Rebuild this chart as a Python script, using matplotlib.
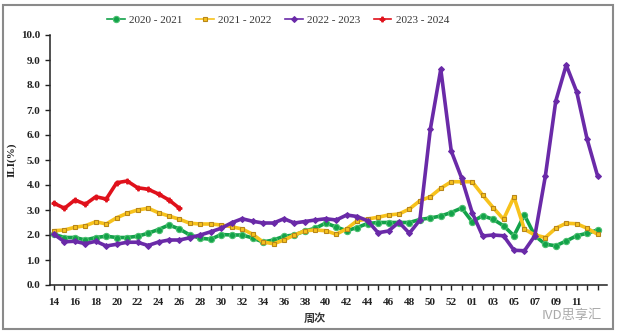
import matplotlib
matplotlib.use("Agg")
import matplotlib.pyplot as plt
from matplotlib.patches import Rectangle

weeks = list(range(14, 54)) + list(range(1, 14))
tick_labels = [f"{w:02d}" if w < 10 else str(w) for w in weeks]

s2020 = [2.03, 1.9, 1.9, 1.8, 1.9, 1.95, 1.9, 1.9, 1.95, 2.07, 2.22, 2.4, 2.24, 2.0,
         1.87, 1.83, 2.02, 2.0, 2.0, 1.88, 1.72, 1.8, 1.95, 2.0, 2.16, 2.27, 2.48, 2.32,
         2.17, 2.3, 2.46, 2.5, 2.5, 2.5, 2.5, 2.62, 2.68, 2.76, 2.9, 3.08,
         2.53, 2.77, 2.63, 2.37, 1.97, 2.8, 1.97, 1.63, 1.57, 1.76, 1.97, 2.07, 2.2]
s2021 = [2.17, 2.2, 2.31, 2.37, 2.53, 2.44, 2.69, 2.87, 3.0, 3.07, 2.89, 2.76, 2.63, 2.47,
         2.44, 2.44, 2.4, 2.33, 2.24, 2.03, 1.72, 1.65, 1.8, 2.0, 2.17, 2.2, 2.17, 2.03,
         2.25, 2.57, 2.64, 2.71, 2.8, 2.84, 3.04, 3.37, 3.53, 3.87, 4.13, 4.13,
         4.13, 3.6, 3.1, 2.63, 3.52, 2.23, 2.0, 1.9, 2.27, 2.47, 2.45, 2.27, 2.03]
s2022 = [2.03, 1.73, 1.75, 1.65, 1.75, 1.56, 1.63, 1.71, 1.71, 1.58, 1.72, 1.8, 1.8, 1.89,
         2.0, 2.13, 2.27, 2.49, 2.65, 2.55, 2.48, 2.48, 2.65, 2.48, 2.54, 2.6, 2.65, 2.6,
         2.8, 2.74, 2.57, 2.09, 2.16, 2.51, 2.07, 2.6, 6.23, 8.63, 5.36, 4.27,
         2.9, 1.96, 2.0, 1.97, 1.39, 1.37, 1.97, 4.35, 7.36, 8.8, 7.73, 5.83, 4.36]
s2023 = [3.27, 3.07, 3.4, 3.23, 3.53, 3.44, 4.09, 4.16, 3.89, 3.83, 3.64, 3.4, 3.07]

series = [
    ("2020 - 2021", s2020, "#13a24a", "o", 4.5, "#4cc070"),
    ("2021 - 2022", s2021, "#f7c21c", "s", 3.5, "#b8861a"),
    ("2022 - 2023", s2022, "#6a2aa8", "D", 3.0, "#6a2aa8"),
    ("2023 - 2024", s2023, "#e0111b", "P", 3.5, "#e0111b"),
]

fig = plt.figure(figsize=(6.18, 3.36), dpi=100)
ax = fig.add_axes([50 / 618, 1 - 285 / 336, (607 - 50) / 618, (285 - 35) / 336])

for name, vals, col, mk, ms, ec in series:
    ax.plot(range(len(vals)), vals, color=col, lw=2.6, marker=mk, ms=ms,
            mfc=col if mk != "s" else "#f7c21c", mec=ec, mew=0.8, label=name,
            solid_joinstyle="round")

serif = "Liberation Serif"
ax.set_xlim(-0.38, 52.9)
ax.set_ylim(0, 10)
ax.set_yticks([i for i in range(11)])
ax.set_yticklabels([f"{i:.1f}" for i in range(11)], fontfamily=serif,
                   fontweight="bold", fontsize=8, color="#222222")
ax.set_xticks(range(len(weeks)))
xl = [tick_labels[i] if (i % 2 == 0 and i < 52) else "" for i in range(len(weeks))]
ax.set_xticklabels(xl, fontfamily=serif, fontweight="bold", fontsize=8, color="#222222")
ax.tick_params(axis="both", direction="out", length=3.5, width=1.0, color="#222222")
ax.tick_params(axis="x", pad=6)
for side in ("top", "right"):
    ax.spines[side].set_visible(False)
for side in ("left", "bottom"):
    ax.spines[side].set_linewidth(1.1)
    ax.spines[side].set_color("#222222")

fig.text(12 / 618, 1 - 160 / 336, "ILI(%)", rotation=90, ha="center", va="center",
         fontfamily=serif, fontweight="bold", fontsize=8, color="#222222")
fig.text(315 / 618, 1 - 318 / 336, "周次", ha="center", va="center",
         fontfamily=["Noto Sans CJK SC", "DejaVu Sans"], fontweight="bold",
         fontsize=8, color="#333333")

leg = fig.legend(loc="center", bbox_to_anchor=(278 / 618, 1 - 20 / 336), ncol=4,
                 frameon=False, handlelength=1.6, handletextpad=0.4, columnspacing=1.2,
                 prop={"family": serif, "size": 8})
for t in leg.get_texts():
    t.set_color("#333333")
for h in leg.legend_handles:
    h.set_linewidth(1.2)

fig.text(572 / 618, 1 - 316 / 336, "IVD思享汇", ha="center", va="center",
         fontfamily=["Noto Sans CJK SC", "DejaVu Sans"], fontsize=9.5, color="#aaaaaa")

fig.patches.append(Rectangle((3 / 618, 1 - 329 / 336), 610 / 618, 324 / 336,
                             transform=fig.transFigure, fill=False,
                             edgecolor="#8a8a8a", lw=1.5))

fig.savefig("out.png", dpi=100, facecolor="white")
